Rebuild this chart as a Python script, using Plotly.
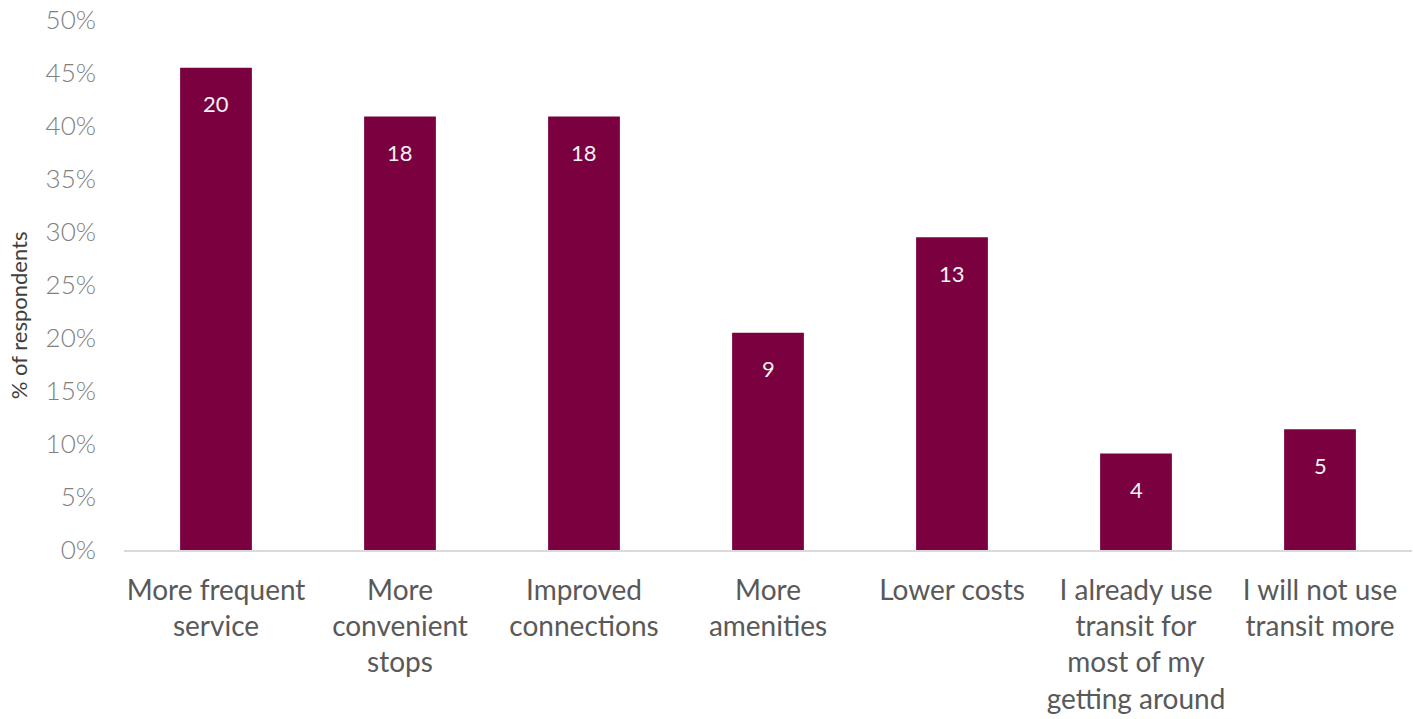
import plotly.graph_objects as go

categories = [
    "More frequent<br>service",
    "More<br>convenient<br>stops",
    "Improved<br>connections",
    "More<br>amenities",
    "Lower costs",
    "I already use<br>transit for<br>most of my<br>getting around",
    "I will not use<br>transit more",
]
percent_values = [45.5, 40.9, 40.9, 20.5, 29.5, 9.1, 11.4]
counts = [20, 18, 18, 9, 13, 4, 5]
y_ticks = [0, 5, 10, 15, 20, 25, 30, 35, 40, 45, 50]
y_tick_labels = [f"{v}%" for v in y_ticks]

BAR = "#7A003F"
FONT = "Lato, Open Sans, sans-serif"

fig = go.Figure()
fig.add_trace(go.Bar(
    x=categories, y=percent_values,
    marker=dict(color=BAR, line=dict(width=0)),
    hoverinfo="skip",
))

for c, v, n in zip(categories, percent_values, counts):
    fig.add_annotation(
        x=c, y=v, text=str(n), showarrow=False,
        yshift=-36, yanchor="middle",
        font=dict(family=FONT, size=22, color="#F2F2F2"),
    )

fig.add_annotation(
    xref="paper", yref="paper", x=-0.0823, y=0.443,
    text="% of respondents", textangle=-90, showarrow=False,
    xanchor="center", yanchor="middle",
    font=dict(family=FONT, size=22, color="#404040"),
)

fig.update_layout(
    width=1413, height=719,
    margin=dict(l=124, r=1, t=20, b=169, autoexpand=False),
    paper_bgcolor="white", plot_bgcolor="white",
    bargap=0.61,
    showlegend=False,
    xaxis=dict(
        showgrid=False, showline=True, linecolor="#D9D9D9", linewidth=2,
        ticks="", tickfont=dict(family=FONT, size=28, color="#595959"),
        ticklabelstandoff=14, automargin=False,
    ),
    yaxis=dict(
        range=[0, 50], tickvals=y_ticks, ticktext=y_tick_labels,
        showgrid=False, zeroline=False, showline=False, ticks="",
        tickfont=dict(family=FONT, size=26, color="#808080", weight=300),
        ticklabelstandoff=27, automargin=False,
    ),
)

fig.write_html(
    "out.html",
    config={"displayModeBar": False},
    post_script="document.body.style.margin='0';document.body.style.overflow='hidden';",
)
